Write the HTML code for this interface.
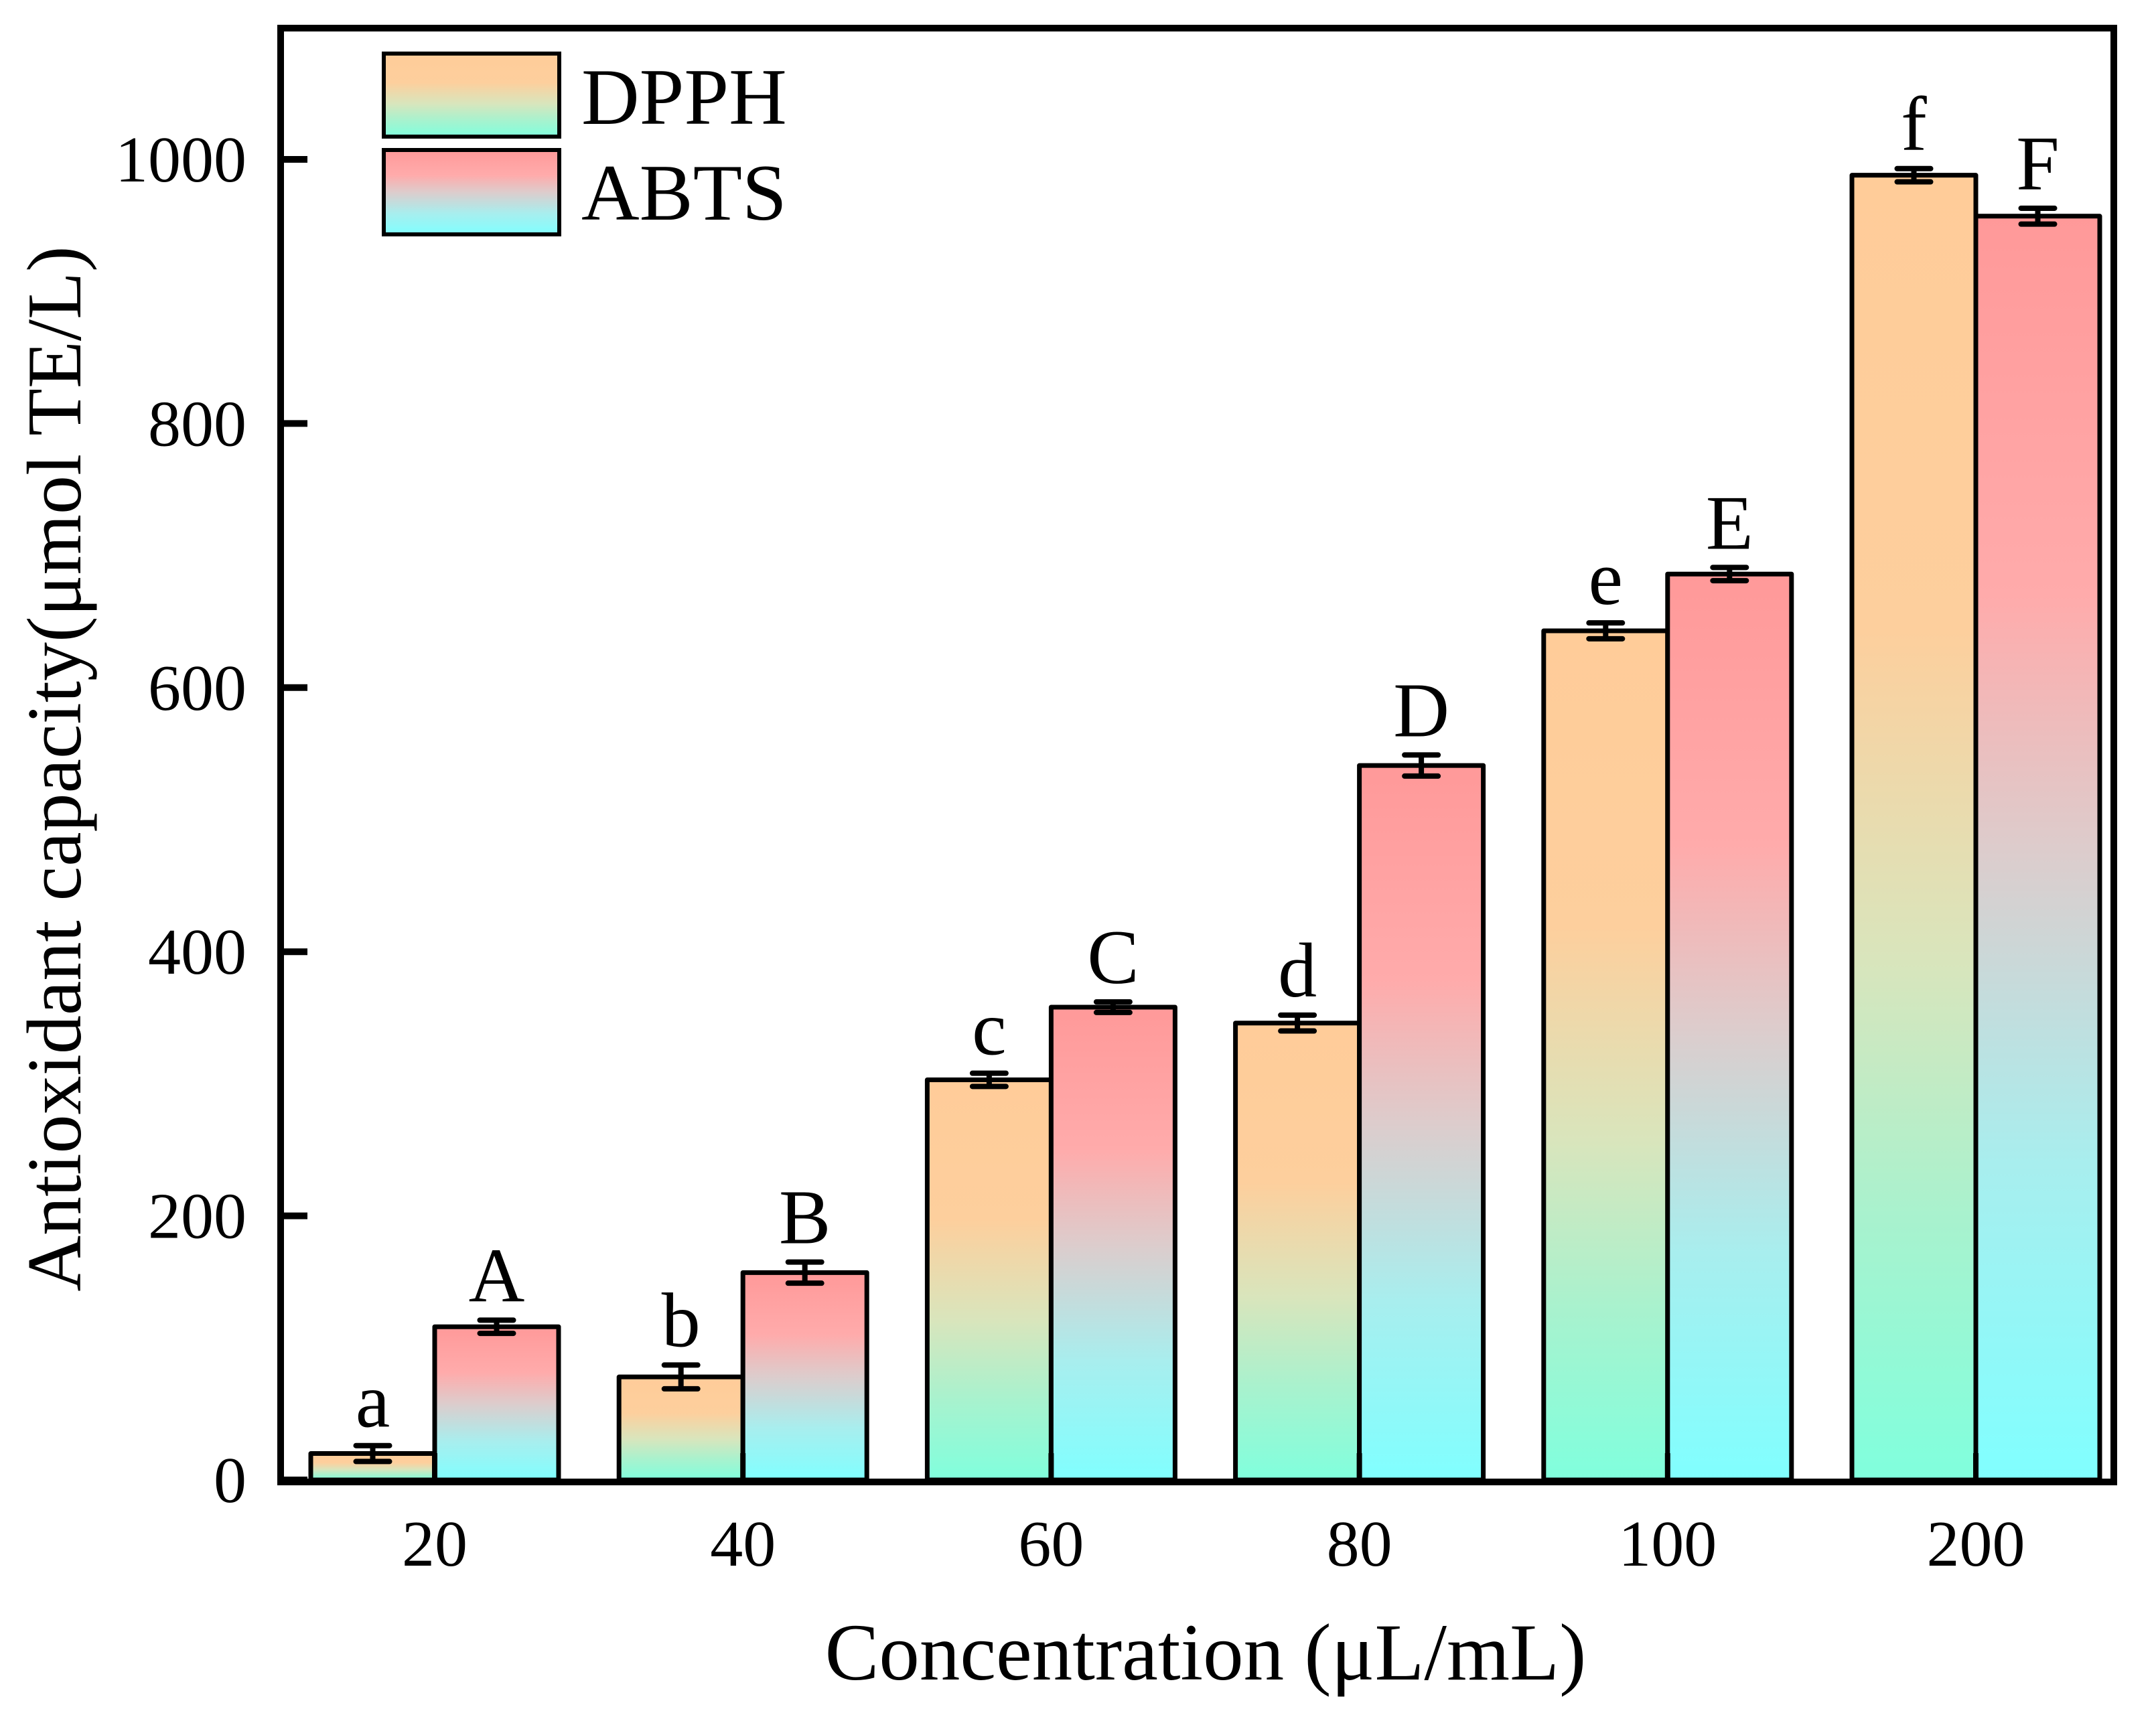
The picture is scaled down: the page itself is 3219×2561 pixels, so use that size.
<!DOCTYPE html>
<html><head><meta charset="utf-8">
<style>html,body{margin:0;padding:0;background:#fff}svg{display:block}</style>
</head><body>
<svg id="chart" width="3219" height="2561" viewBox="0 0 3219 2561" xmlns="http://www.w3.org/2000/svg" font-family="'Liberation Serif', serif">
<defs>
<linearGradient id="gD" x1="0" y1="0" x2="0" y2="1">
<stop offset="0" stop-color="#FFCC99"/><stop offset="0.35" stop-color="#FDCF9D"/><stop offset="0.6" stop-color="#D9E5BC"/><stop offset="0.8" stop-color="#A8F2CE"/><stop offset="1" stop-color="#80FFDD"/>
</linearGradient>
<linearGradient id="gA" x1="0" y1="0" x2="0" y2="1">
<stop offset="0" stop-color="#FF9999"/><stop offset="0.3" stop-color="#FFABAB"/><stop offset="0.5" stop-color="#DDCCCC"/><stop offset="0.75" stop-color="#A8EEEE"/><stop offset="1" stop-color="#80FFFF"/>
</linearGradient>
</defs>
<g id="plot"></g>
<g>
<rect x="573" y="80" width="262" height="124" fill="url(#gD)" stroke="#000" stroke-width="6"/>
<text x="868" y="185" font-size="120">DPPH</text>
<rect x="573" y="224" width="262" height="126" fill="url(#gA)" stroke="#000" stroke-width="6"/>
<text x="868" y="328" font-size="120">ABTS</text>
</g>
<text x="1800" y="2508" font-size="121" text-anchor="middle">Concentration (μL/mL)</text>
<text transform="translate(120,1148) rotate(-90)" font-size="116" text-anchor="middle">Antioxidant capacity(μmol TE/L)</text>
</svg>
<script>
const categories = ["20","40","60","80","100","200"];
const dpphValues = [20, 78, 303, 346, 643, 988];
const dpphErrors = [6, 9, 5, 6, 6, 5];
const abtsValues = [116, 157, 358, 541, 686, 957];
const abtsErrors = [5, 8, 4, 8, 5, 6];
const dpphLetters = ["a","b","c","d","e","f"];
const abtsLetters = ["A","B","C","D","E","F"];
const yTicks = [0, 200, 400, 600, 800, 1000];

const NS = "http://www.w3.org/2000/svg";
const L = 419, R = 3156, T = 42, B = 2210;
const y = v => B - v * (1972 / 1000);
const xc = i => 649 + i * 460.2;
const BW = 185;
const g = document.getElementById('plot');
function mk(tag, attrs, parent) {
  const e = document.createElementNS(NS, tag);
  for (const k in attrs) e.setAttribute(k, attrs[k]);
  (parent || g).appendChild(e);
  return e;
}
function bar(x, v, err, fill, letter, name) {
  const r = mk('rect', {x: x, y: y(v), width: BW, height: B - y(v), fill: fill, stroke: '#000', 'stroke-width': 7, 'stroke-linejoin': 'round'});
  
  
  const cx = x + BW / 2;
  const eb = mk('path', {d: `M${cx-25},${y(v+err)}H${cx+25}M${cx-25},${y(v-err)}H${cx+25}M${cx},${y(v+err)}V${y(v-err)}`, stroke: '#000', 'stroke-width': 8, 'stroke-linecap': 'round', fill: 'none'});
  
  
  const t = mk('text', {x: cx, y: y(v + err) - 28, 'font-size': 116, 'text-anchor': 'middle'});
  t.textContent = letter;
  
  
}
categories.forEach((c, i) => {
  bar(xc(i) - BW, dpphValues[i], dpphErrors[i], 'url(#gD)', dpphLetters[i], 'bar-dpph-' + c);
  bar(xc(i), abtsValues[i], abtsErrors[i], 'url(#gA)', abtsLetters[i], 'bar-abts-' + c);
  const tk = mk('line', {x1: xc(i), x2: xc(i), y1: B, y2: B - 40, stroke: '#000', 'stroke-width': 8});
  
  
  const lb = mk('text', {x: xc(i), y: 2338, 'font-size': 98, 'text-anchor': 'middle'});
  lb.textContent = c;
  
  
});
yTicks.forEach(v => {
  const tk = mk('line', {x1: L, x2: L + 40, y1: y(v), y2: y(v), stroke: '#000', 'stroke-width': 10});
  
  
  const lb = mk('text', {x: 368, y: y(v) + 33, 'font-size': 98, 'text-anchor': 'end'});
  lb.textContent = v;
  
  
});
const fr = mk('rect', {x: L, y: T, width: R - L, height: B - T + 3, fill: 'none', stroke: '#000', 'stroke-width': 10});


</script>
</body></html>
